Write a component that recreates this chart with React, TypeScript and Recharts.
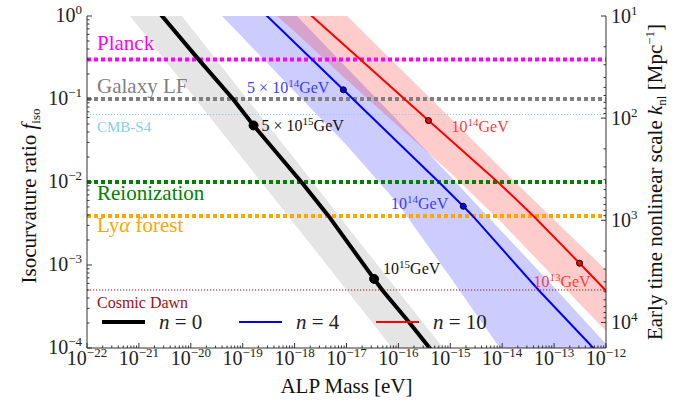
import React from "react";
import {
  ComposedChart,
  XAxis,
  YAxis,
  Line,
  Area,
  ReferenceLine,
  ReferenceDot,
  Legend,
} from "recharts";

const serif = '"Liberation Serif", "Times New Roman", serif';
const axisColor = "#333333";

// ALP mass [eV] vs isocurvature ratio, one curve per n
const n0Mass = [2.0e-21, 2.79e-21, 1.41e-20, 6.5e-20, 1.62e-19, 1.35e-18, 4.5e-18, 3.4e-17, 5.0e-17, 1.55e-16, 4.0e-16, 6.3e-16];
const n0Fiso = [1.29, 1.0, 0.3, 0.1, 0.048, 0.01, 3.9e-3, 6.8e-4, 4.9e-4, 2.1e-4, 1.0e-4, 6.9e-5];

const n4Mass = [2.0e-19, 2.95e-19, 8.7e-18, 6.0e-16, 1.78e-15, 2.7e-15, 5.0e-14, 5.7e-13, 1.0e-12];
const n4Fiso = [1.27, 1.0, 0.129, 0.01, 5.1e-3, 3.9e-3, 5.0e-4, 1.0e-4, 6.8e-5];

const n10Mass = [1.26e-18, 2.14e-18, 3.8e-16, 8.5e-15, 4.0e-14, 3.1e-13, 1.0e-12, 1.6e-12];
const n10Fiso = [1.35, 1.0, 0.055, 9.8e-3, 3.9e-3, 1.05e-3, 4.9e-4, 3.6e-4];

// uncertainty bands, read at each decade of mass
const bandMass = [1e-22, 1e-21, 1e-20, 1e-19, 1e-18, 1e-17, 1e-16, 1e-15, 1e-14, 1e-13, 1e-12, 1e-11];
const n0Lo = [4.5, 0.73, 0.118, 0.019, 3.1e-3, 5.0e-4, 8.0e-5, 1.3e-5, 2.1e-6, 3.4e-7, 5.5e-8, 8.9e-9];
const n0Hi = [28.5, 4.6, 0.73, 0.117, 0.019, 3.0e-3, 4.8e-4, 7.8e-5, 1.25e-5, 2.0e-6, 3.2e-7, 5.1e-8];
const n4Lo = [49, 11, 2.45, 0.55, 0.123, 0.028, 5.4e-3, 7.1e-4, 9.1e-5, 1.2e-5, 1.6e-6, 2.1e-7];
const n4Hi = [437, 98, 21, 4.8, 1.07, 0.24, 0.054, 0.0117, 2.5e-3, 5.4e-4, 1.12e-4, 2.3e-5];
const n10Lo = [120, 32, 8.7, 2.3, 0.65, 0.17, 0.047, 0.0129, 3.2e-3, 7.1e-4, 1.6e-4, 3.5e-5];
const n10Hi = [1260, 300, 72, 17, 4.3, 1.02, 0.245, 0.059, 0.0141, 3.5e-3, 8.7e-4, 2.2e-4];

// marked points (decay constant labels)
const n0MarkMass = [1.62e-19, 3.4e-17];
const n0MarkFiso = [0.048, 6.8e-4];
const n0MarkText = [["5 × ", "15"], ["", "15"]];
const n4MarkMass = [8.7e-18, 1.78e-15];
const n4MarkFiso = [0.129, 5.1e-3];
const n4MarkText = [["5 × ", "14"], ["", "14"]];
const n10MarkMass = [3.8e-16, 3.1e-13];
const n10MarkFiso = [0.055, 1.05e-3];
const n10MarkText = [["", "14"], ["", "13"]];

const nValues = [0, 4, 10];

// observational limits on f_iso
const limitNames = ["Planck", "Galaxy LF", "CMB-S4", "Reionization", "Lyα forest", "Cosmic Dawn"];
const limitValues = [0.3, 0.1, 0.065, 0.01, 0.0039, 0.0005];

// tick decades
const xDecades = [-22, -21, -20, -19, -18, -17, -16, -15, -14, -13, -12];
const yDecades = [-4, -3, -2, -1, 0];
const kDecades = [1, 2, 3, 4];
const minorSteps = [2, 3, 4, 5, 6, 7, 8, 9];

const withMinor = (decades: number[], maxExp: number) => {
  const out: number[] = [];
  decades.forEach((d) => {
    out.push(Math.pow(10, d));
    if (d < maxExp) minorSteps.forEach((s) => out.push(s * Math.pow(10, d)));
  });
  return out;
};
const xTicks = withMinor(xDecades, -12);
const yTicks = withMinor(yDecades, 0);
const kTicks = withMinor(kDecades, 4.25).filter((v) => v <= Math.pow(10, 4.25));

const curveStyles = [
  { color: "#000000", width: 4, band: "#000000", bandOpacity: 0.1, dotR: 4.5, dotFill: "#000000", text: "#111111" },
  { color: "#0000ff", width: 2, band: "#0000ff", bandOpacity: 0.2, dotR: 3, dotFill: "#0000ff", text: "#3b3bff" },
  { color: "#ff0000", width: 2, band: "#ff0000", bandOpacity: 0.2, dotR: 3, dotFill: "#ff0000", text: "#ff3b3b" },
];
const markOffsets = [
  [{ dx: 8, dy: 5.5, anchor: "start" }, { dx: 9, dy: -5, anchor: "start" }],
  [{ dx: -14, dy: 3.5, anchor: "end" }, { dx: -15, dy: 3, anchor: "end" }],
  [{ dx: 23, dy: 11.5, anchor: "start" }, { dx: 11, dy: 24, anchor: "end" }],
];
const limitStyles = [
  { color: "#ff00ff", width: 4, dash: "4 3", size: 21, dy: -9 },
  { color: "#808080", width: 4, dash: "4 3", size: 21, dy: -6 },
  { color: "#87ceeb", width: 1, dash: "1.2 1.8", size: 15, dy: 17 },
  { color: "#008000", width: 4, dash: "4 3", size: 21, dy: 18 },
  { color: "#ffa500", width: 4, dash: "4 3", size: 21, dy: 16.5 },
  { color: "#9b1010", width: 1, dash: "1.2 1.8", size: 16, dy: 18 },
];

const toPoints = (mass: number[], f: number[]) => mass.map((m, i) => ({ m, f: f[i] }));
const toBand = (lo: number[], hi: number[]) => bandMass.map((m, i) => ({ m, band: [lo[i], hi[i]] }));

const curves = [
  { line: toPoints(n0Mass, n0Fiso), band: toBand(n0Lo, n0Hi), marks: [n0MarkMass, n0MarkFiso, n0MarkText] },
  { line: toPoints(n4Mass, n4Fiso), band: toBand(n4Lo, n4Hi), marks: [n4MarkMass, n4MarkFiso, n4MarkText] },
  { line: toPoints(n10Mass, n10Fiso), band: toBand(n10Lo, n10Hi), marks: [n10MarkMass, n10MarkFiso, n10MarkText] },
];

function LogTick(props: any) {
  const { x, y, payload, side } = props;
  const e = Math.log10(payload.value);
  const major = Math.abs(e - Math.round(e)) < 1e-6;
  const len = major ? 5 : 2.5;
  const exp = String(Math.round(e)).replace("-", "−");
  const label = (tx: number, ty: number, anchor: string) => (
    <text x={tx} y={ty} textAnchor={anchor} fontSize={20} fontFamily={serif} fill="#222">
      10<tspan dy={-8} fontSize={13}>{exp}</tspan>
    </text>
  );
  if (side === "bottom")
    return (
      <g>
        <line x1={x} x2={x} y1={y} y2={y - len} stroke={axisColor} />
        {major && label(x, y + 17, "middle")}
      </g>
    );
  if (side === "top") return <line x1={x} x2={x} y1={y} y2={y + len} stroke={axisColor} />;
  if (side === "left")
    return (
      <g>
        <line x1={x} x2={x + len} y1={y} y2={y} stroke={axisColor} />
        {major && label(x - 5, y + 6, "end")}
      </g>
    );
  return (
    <g>
      <line x1={x} x2={x - len} y1={y} y2={y} stroke={axisColor} />
      {major && label(x + 5, y + 7, "start")}
    </g>
  );
}

function LimitLabel(props: any) {
  const { viewBox, text, color, size, offY } = props;
  const parts = text.split("α");
  return (
    <text x={viewBox.x + 10} y={viewBox.y + offY} fill={color} fontSize={size} fontFamily={serif}>
      {parts[0]}
      {parts.length > 1 && <tspan fontStyle="italic">α</tspan>}
      {parts.length > 1 && parts[1]}
    </text>
  );
}

function DotLabel(props: any) {
  const { viewBox, prefix, exp, color, offX, offY, anchor } = props;
  const cx = viewBox.x + viewBox.width / 2;
  const cy = viewBox.y + viewBox.height / 2;
  return (
    <text x={cx + offX} y={cy + offY} textAnchor={anchor} fill={color} fontSize={16} fontFamily={serif}>
      {prefix}10<tspan dy={-6} fontSize={11}>{exp}</tspan>
      <tspan dy={6}>GeV</tspan>
    </text>
  );
}

function XTitle(props: any) {
  const { viewBox } = props;
  return (
    <text x={viewBox.x + viewBox.width / 2} y={viewBox.y + 45} textAnchor="middle" fontSize={21} fontFamily={serif} fill="#111">
      ALP Mass [eV]
    </text>
  );
}

function LeftTitle() {
  const cx = 36;
  const cy = 196;
  return (
    <text x={cx} y={cy} transform={`rotate(-90, ${cx}, ${cy})`} textAnchor="middle" fontSize={21} fontFamily={serif} fill="#111">
      Isocurvature ratio <tspan fontStyle="italic">f</tspan>
      <tspan dy={4} fontSize={13}>iso</tspan>
    </text>
  );
}

function RightTitle(props: any) {
  const { viewBox } = props;
  const cx = viewBox.x + 56;
  const cy = 182;
  return (
    <text x={cx} y={cy} transform={`rotate(-90, ${cx}, ${cy})`} textAnchor="middle" fontSize={21} fontFamily={serif} fill="#111">
      Early time nonlinear scale <tspan fontStyle="italic">k</tspan>
      <tspan dy={4} fontSize={13}>nl</tspan>
      <tspan dy={-4}> [Mpc</tspan>
      <tspan dy={-8} fontSize={13}>−1</tspan>
      <tspan dy={8}>]</tspan>
    </text>
  );
}

function LegendBox() {
  return (
    <div style={{ display: "flex", fontFamily: serif, fontSize: 21, color: "#222", lineHeight: "20px" }}>
      {nValues.map((n, i) => (
        <div key={n} style={{ display: "flex", alignItems: "center", width: 137 }}>
          <span style={{ display: "inline-block", width: 43, height: curveStyles[i].width, background: curveStyles[i].color }} />
          <span style={{ marginLeft: 14 }}>
            <i>n</i> = {n}
          </span>
        </div>
      ))}
    </div>
  );
}

export default function App() {
  return (
    <div style={{ position: "absolute", left: 0, top: 0, background: "#fff" }}>
      <ComposedChart width={684} height={402} margin={{ top: 16, right: 0, bottom: 0, left: 0 }}>
        <XAxis
          dataKey="m"
          type="number"
          scale="log"
          domain={[1e-22, 1e-12]}
          allowDataOverflow
          ticks={xTicks}
          interval={0}
          tickSize={0}
          tickMargin={0}
          tickLine={false}
          axisLine={{ stroke: axisColor }}
          tick={<LogTick side="bottom" />}
          height={54}
          label={<XTitle />}
        />
        <XAxis
          xAxisId="top"
          orientation="top"
          dataKey="m"
          type="number"
          scale="log"
          domain={[1e-22, 1e-12]}
          allowDataOverflow
          ticks={xTicks}
          interval={0}
          tickSize={0}
          tickMargin={0}
          tickLine={false}
          axisLine={{ stroke: axisColor }}
          tick={<LogTick side="top" />}
          height={0}
        />
        <YAxis
          type="number"
          scale="log"
          domain={[1e-4, 1]}
          allowDataOverflow
          ticks={yTicks}
          interval={0}
          tickSize={0}
          tickMargin={0}
          tickLine={false}
          axisLine={{ stroke: axisColor }}
          tick={<LogTick side="left" />}
          width={87}
          label={<LeftTitle />}
        />
        <YAxis
          yAxisId="k"
          orientation="right"
          type="number"
          scale="log"
          domain={[10, Math.pow(10, 4.25)]}
          reversed
          allowDataOverflow
          ticks={kTicks}
          interval={0}
          tickSize={0}
          tickMargin={0}
          tickLine={false}
          axisLine={{ stroke: axisColor }}
          tick={<LogTick side="right" />}
          width={78}
          label={<RightTitle />}
        />

        {curves.map((c, i) => (
          <Area
            key={`band${i}`}
            data={c.band}
            dataKey="band"
            type="linear"
            stroke="none"
            fill={curveStyles[i].band}
            fillOpacity={curveStyles[i].bandOpacity}
            isAnimationActive={false}
            activeDot={false}
            dot={false}
          />
        ))}

        {limitNames.map((name, i) => (
          <ReferenceLine
            key={name}
            y={limitValues[i]}
            stroke={limitStyles[i].color}
            strokeWidth={limitStyles[i].width}
            strokeDasharray={limitStyles[i].dash}
            label={<LimitLabel text={name} color={limitStyles[i].color} size={limitStyles[i].size} offY={limitStyles[i].dy} />}
          />
        ))}

        {curves.map((c, i) => (
          <Line
            key={`line${i}`}
            data={c.line}
            dataKey="f"
            type="linear"
            stroke={curveStyles[i].color}
            strokeWidth={curveStyles[i].width}
            dot={false}
            activeDot={false}
            isAnimationActive={false}
          />
        ))}

        {curves.map((c, i) =>
          (c.marks[0] as number[]).map((m, j) => {
            const txt = (c.marks[2] as string[][])[j];
            const off = markOffsets[i][j];
            return (
              <ReferenceDot
                key={`dot${i}-${j}`}
                x={m}
                y={(c.marks[1] as number[])[j]}
                r={curveStyles[i].dotR}
                fill={curveStyles[i].dotFill}
                stroke="#000"
                strokeWidth={1}
                label={<DotLabel prefix={txt[0]} exp={txt[1]} color={curveStyles[i].text} offX={off.dx} offY={off.dy} anchor={off.anchor} />}
              />
            );
          })
        )}

        <Legend
          layout="horizontal"
          verticalAlign="middle"
          align="center"
          wrapperStyle={{ left: 102, top: 312, width: 420, height: 20 }}
          content={<LegendBox />}
        />
      </ComposedChart>
    </div>
  );
}
